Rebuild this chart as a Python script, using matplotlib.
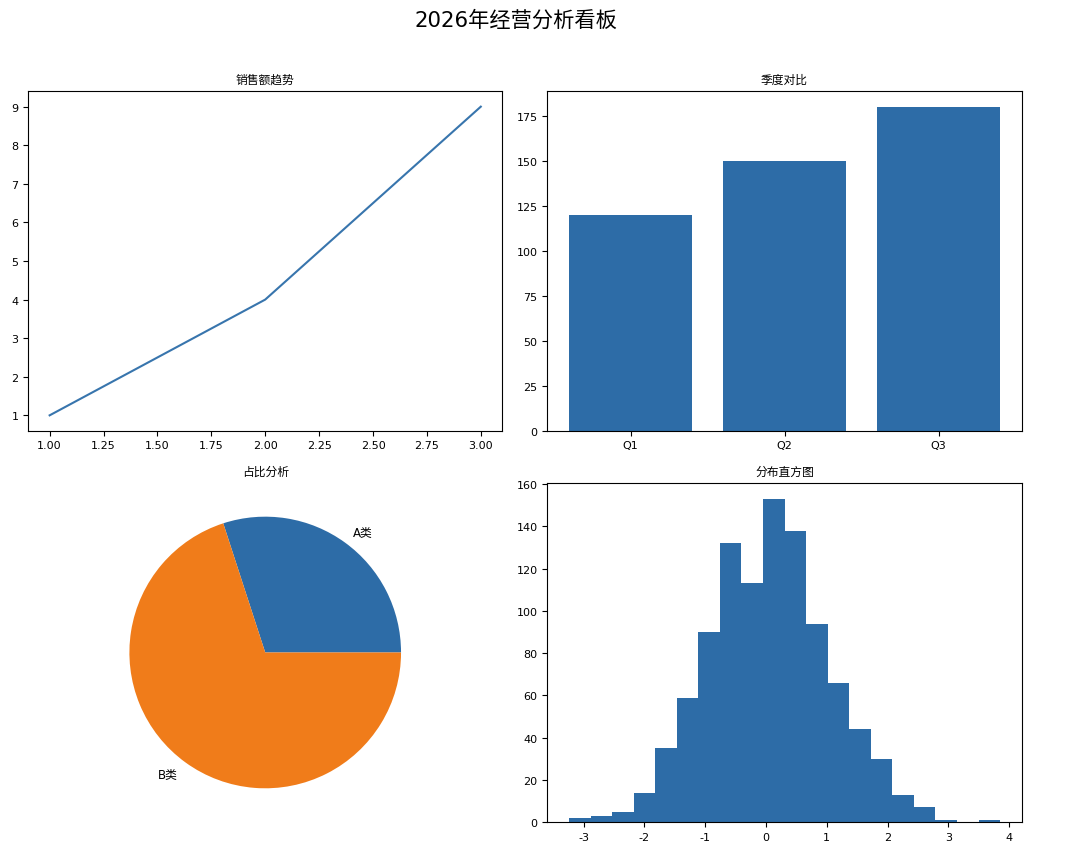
import matplotlib
matplotlib.use("Agg")
import matplotlib.pyplot as plt
import numpy as np

plt.rcParams['font.family'] = ['DejaVu Sans', 'Noto Sans CJK SC']
plt.rcParams['axes.unicode_minus'] = False
plt.rcParams['font.size'] = 8

# 销售额趋势
line_x = [1, 2, 3]
line_y = [1, 4, 9]

# 季度对比
quarters = ["Q1", "Q2", "Q3"]
quarter_sales = [120, 150, 180]

# 占比分析
pie_labels = ["A类", "B类"]
pie_sizes = [30, 70]

# 分布直方图 (counts, 20 bins)
hist_counts = [2, 3, 5, 14, 35, 59, 90, 132, 113, 153,
               138, 94, 66, 44, 30, 13, 7, 1, 0, 1]
hist_min, hist_max = -3.24, 3.85

blue = "#2d6ca7"
orange = "#f07c1a"

fig, axes = plt.subplots(2, 2, figsize=(10.8, 8.54), dpi=100)
fig.subplots_adjust(left=0.026, right=0.946, top=0.892, bottom=0.036,
                    wspace=0.095, hspace=0.153)
fig.suptitle("2026年经营分析看板", fontsize=15.3, x=0.478, y=0.988)

ax = axes[0, 0]
ax.plot(line_x, line_y, color="#3875ad", linewidth=1.5)
ax.set_title("销售额趋势", fontsize=8.5)

ax = axes[0, 1]
ax.bar(quarters, quarter_sales, color=blue)
ax.set_title("季度对比", fontsize=8.5)

ax = axes[1, 0]
ax.pie(pie_sizes, labels=pie_labels, colors=[blue, orange],
       textprops={"fontsize": 8.5})
ax.set_title("占比分析", fontsize=8.5)

ax = axes[1, 1]
edges = np.linspace(hist_min, hist_max, len(hist_counts) + 1)
centers = (edges[:-1] + edges[1:]) / 2
ax.hist(centers, bins=edges, weights=hist_counts, color=blue)
ax.set_title("分布直方图", fontsize=8.5)

plt.savefig("out.png")
